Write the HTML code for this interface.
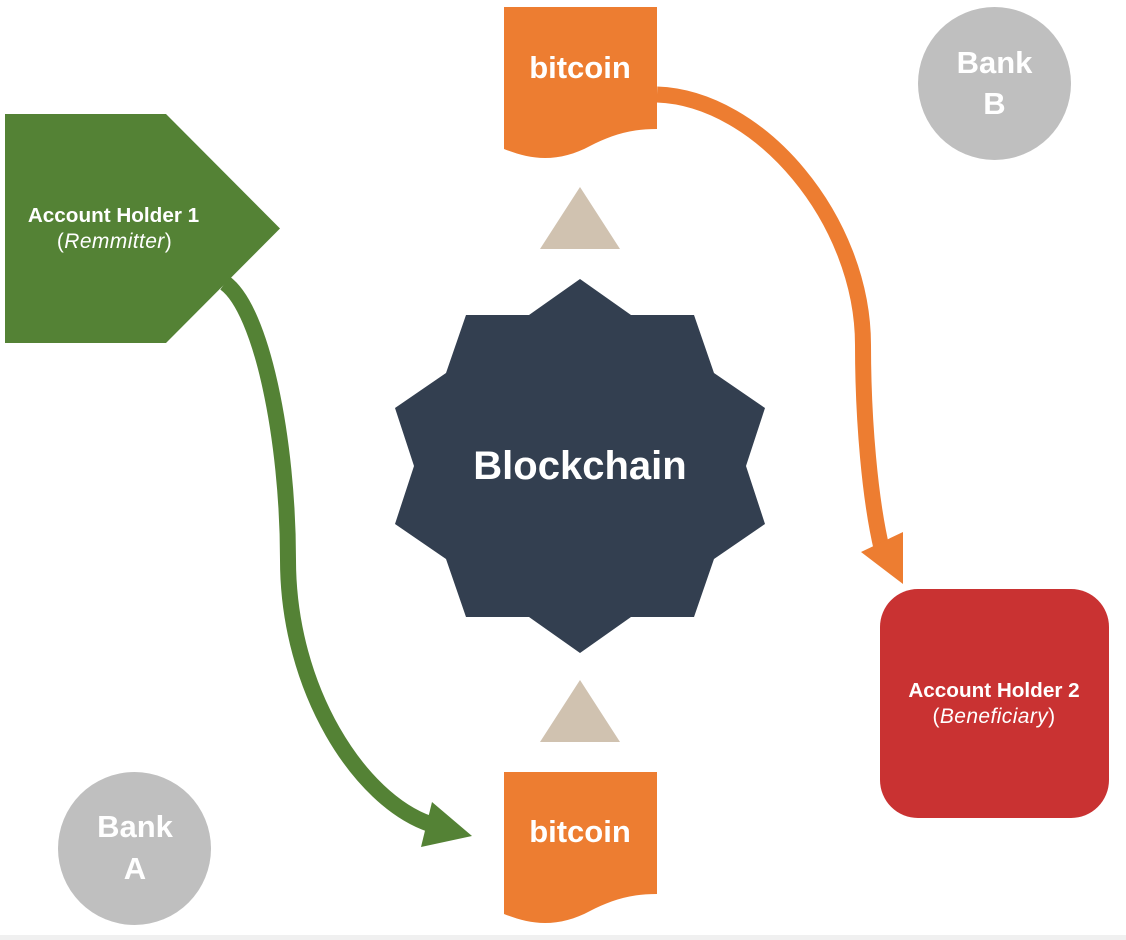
<!DOCTYPE html>
<html>
<head>
<meta charset="utf-8">
<style>
html,body{margin:0;padding:0;background:#fff;}
svg{display:block;}
text{font-family:"Liberation Sans","DejaVu Sans",sans-serif;fill:#fff;text-anchor:middle;}
</style>
</head>
<body>
<svg width="1126" height="940" viewBox="0 0 1126 940" xmlns="http://www.w3.org/2000/svg">
<rect width="1126" height="940" fill="#fff"/>
<rect x="0" y="935" width="1126" height="5" fill="#f0f0f0"/>

<!-- Bank circles -->
<circle cx="994.5" cy="83.5" r="76.5" fill="#bfbfbf"/>
<circle cx="134.5" cy="848.5" r="76.5" fill="#bfbfbf"/>
<text x="994.5" y="73" font-size="31" font-weight="bold">Bank</text>
<text x="994.5" y="114" font-size="31" font-weight="bold">B</text>
<text x="135" y="837" font-size="31" font-weight="bold">Bank</text>
<text x="135" y="879" font-size="31" font-weight="bold">A</text>

<!-- Green pentagon -->
<polygon points="5,114 166,114 280,228.5 166,343 5,343" fill="#548235"/>
<text x="113.500" y="222" font-size="20.700" font-weight="bold">Account Holder 1</text>
<text x="114.500" y="248" font-size="21" letter-spacing="0.4">(<tspan font-style="italic">Remmitter</tspan>)</text>

<!-- Red rounded box -->
<rect x="880" y="589" width="229" height="229" rx="38" ry="38" fill="#c93232"/>
<text x="994" y="697" font-size="20.700" font-weight="bold">Account Holder 2</text>
<text x="994" y="723" font-size="21" letter-spacing="0.4">(<tspan font-style="italic">Beneficiary</tspan>)</text>

<!-- Blockchain star -->
<polygon points="580,279 631,315 694,315 714,373 765,408 746,466 765,524 714,559 694,617 631,617 580,653 529,617 466,617 446,559 395,524 414,466 395,408 446,373 466,315 529,315" fill="#333f50"/>
<text x="580" y="479" font-size="40" font-weight="bold">Blockchain</text>

<!-- Triangles -->
<polygon points="580,187 620,249 540,249" fill="#d0c2b0"/>
<polygon points="580,680 620,742 540,742" fill="#d0c2b0"/>

<!-- Documents -->
<path d="M504,7 H657 V129 C628,129 610,136 590,146 C575,154 560,158 545,158 C530,158 517,154 504,149 Z" fill="#ed7d31"/>
<text x="580" y="78" font-size="31" font-weight="bold">bitcoin</text>
<path d="M504,772 H657 V894 C628,894 610,901 590,911 C575,919 560,923 545,923 C530,923 517,919 504,914 Z" fill="#ed7d31"/>
<text x="580" y="842" font-size="31" font-weight="bold">bitcoin</text>

<!-- Green connector -->
<path d="M225,283 C262,310 288,440 288,560 C288,690 360,800 430,824" fill="none" stroke="#548235" stroke-width="16"/>
<polygon points="432,802 472,836 421,847" fill="#548235"/>

<!-- Orange connector -->
<path d="M657,94.500 C760,98 863,220 863,345 C863,420 870,500 882,550" fill="none" stroke="#ed7d31" stroke-width="16"/>
<polygon points="861,552 903,532 903,584" fill="#ed7d31"/>
</svg>
</body>
</html>
